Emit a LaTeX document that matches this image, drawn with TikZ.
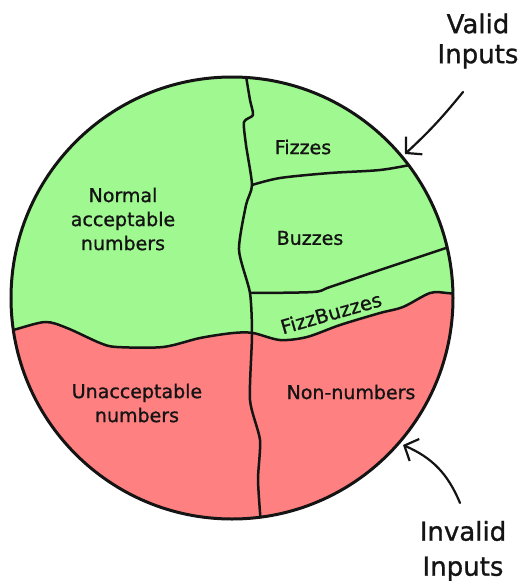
\documentclass[tikz,border=0pt]{standalone}
\usepackage{fontspec}
\setmainfont{DejaVu Sans}[FakeBold=1]
\usetikzlibrary{arrows.meta}
\definecolor{okgreen}{RGB}{160,248,144}
\definecolor{badred}{RGB}{255,128,128}
\definecolor{ink}{RGB}{20,20,20}
\begin{document}
\begin{tikzpicture}[x=1pt,y=-1pt,
  divider/.style={line width=2.5pt, line join=round, line cap=round, draw=ink},
  rim/.style={line width=3pt, draw=ink},
  lbl/.style={font=\fontsize{19}{24}\selectfont, align=center, text=ink, inner sep=0pt},
  biglbl/.style={font=\fontsize{26}{30}\selectfont, align=center, text=ink, inner sep=0pt},
  pointer/.style={line width=2.2pt, draw=ink, line cap=round, -{Straight Barb[length=11pt,width=24pt,line width=2.2pt]}}]
\useasboundingbox (0,0) rectangle (522,581);
\coordinate (C) at (232,298);
\begin{scope}
  \clip (C) circle[radius=221];
  \fill[okgreen] (C) circle[radius=221];
  \fill[badred] plot[smooth] coordinates {(2,331) (13,330) (45,322) (67,328) (100,343) (117,347) (163,347) (200,338) (233,333) (253,333) (280,340) (307,337) (340,325) (380,313) (403,307) (430,293) (447,293) (462,295)} -- (462,530) -- (2,530) -- cycle;
  \draw[divider] plot[smooth] coordinates {(2,331) (13,330) (45,322) (67,328) (100,343) (117,347) (163,347) (200,338) (233,333) (253,333) (280,340) (307,337) (340,325) (380,313) (403,307) (430,293) (447,293) (462,295)};
  \draw[divider] plot[smooth, tension=0.4] coordinates {(245,70) (250,100) (253,115) (244,122) (246,145) (252,185) (246,205) (239,250) (250,293) (252,335) (250,400) (260,440) (258,480) (261,525)};
  \draw[divider] plot[smooth] coordinates {(252,185) (280,178) (330,173) (380,170) (415,164)};
  \draw[divider] plot[smooth] coordinates {(250,293) (313,292) (330,287) (380,270) (455,245)};
\end{scope}
\draw[rim] (C) circle[radius=221];

\node[lbl] (normal) at (123,219) {Normal\\acceptable\\numbers};
\node[lbl] (fizzes) at (303,147) {Fizzes};
\node[lbl] (buzzes) at (310,238) {Buzzes};
\node[lbl, font=\fontsize{19.5}{22}\selectfont, rotate=16] (fizzbuzzes) at (331,313) {FizzBuzzes};
\node[lbl] (unacc) at (137,403) {Unacceptable\\numbers};
\node[lbl] (nonnum) at (351,392) {Non-numbers};

\node[biglbl] (valid) at (478,41) {Valid\\Inputs};
\node[biglbl, font=\fontsize{26}{35}\selectfont] (invalid) at (463,551) {Invalid\\Inputs};

\coordinate (vtail) at (463,92);
\coordinate (vtip) at (405,154);
\coordinate (itail) at (460,503);
\coordinate (itip) at (403,445);
\draw[pointer] (vtail) to[bend left=4] (vtip);
\draw[pointer] (itail) to[bend right=22] (itip);
\end{tikzpicture}
\end{document}
